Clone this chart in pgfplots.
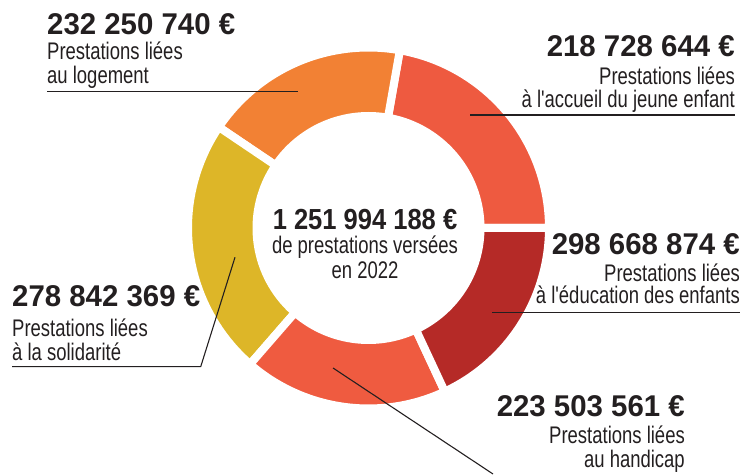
\documentclass[border=0pt]{standalone}
\usepackage{pgfplots}
\pgfplotsset{compat=1.18}
\usepackage{fontspec}
\setmainfont{Liberation Sans}[FakeStretch=0.77]
\newfontfamily\regfont{Liberation Sans}[FakeStretch=0.77]
\newfontfamily\numfont{Liberation Sans}[FakeStretch=0.98]
\newfontfamily\cnumfont{Liberation Sans}[FakeStretch=0.88]
\definecolor{cLog}{HTML}{F28134}
\definecolor{cAcc}{HTML}{EE5A40}
\definecolor{cEdu}{HTML}{B52A27}
\definecolor{cHan}{HTML}{EF5B40}
\definecolor{cSol}{HTML}{DDB628}
\definecolor{txt}{HTML}{231F20}
% donut geometry (px units): centre, outer and inner radii (padded by half the white gap)
\def\cx{368.5}\def\cy{246}\def\Ro{180.5}\def\Ri{112}
\newcommand{\donutslice}[3]{%
  \addplot[fill=#3, draw=white, line width=8pt, line join=miter, samples at={0,...,81}, variable=\k]
  ({\cx + ((\k<=40) ? \Ro : \Ri)*cos((\k<=40) ? (#1+(#2-#1)*\k/40) : (#2-(#2-#1)*(\k-41)/40))},
   {\cy + ((\k<=40) ? \Ro : \Ri)*sin((\k<=40) ? (#1+(#2-#1)*\k/40) : (#2-(#2-#1)*(\k-41)/40))}) -- cycle;
}
\newcommand{\lab}{\regfont\fontsize{24}{24}\selectfont}
\begin{document}
\begin{tikzpicture}
\begin{axis}[scale only axis, width=747pt, height=474pt,
  xmin=0, xmax=747, ymin=0, ymax=474, hide axis, clip=false]
% slice boundaries in degrees (as drawn in the reference)
% accueil 0-80, logement 80-146, solidarite 146-229, handicap 229-295, education 295-360
\donutslice{0}{80}{cAcc}
\donutslice{80}{146}{cLog}
\donutslice{146}{229}{cSol}
\donutslice{229}{295}{cHan}
\donutslice{295}{360}{cEdu}
% leader lines
\addplot[txt, line width=1.1pt] coordinates {(47,382.5) (298,382.5)};
\addplot[txt, line width=1.1pt] coordinates {(470,359) (735,359)};
\addplot[txt, line width=1.1pt] coordinates {(492,161.5) (740,161.5)};
\addplot[txt, line width=1.1pt] coordinates {(333,106) (493,0)};
\addplot[txt, line width=1.1pt] coordinates {(235,216.7) (200.7,107.3) (12,107.3)};
% labels
\begin{scope}[every node/.style={inner sep=0pt, text=txt}]
\node[anchor=base west] at (axis cs:47,439) {\numfont\bfseries\fontsize{30}{30}\selectfont 232 250 740 €};
\node[anchor=base west] at (axis cs:47,414) {\lab Prestations liées};
\node[anchor=base west] at (axis cs:47,390.5) {\lab au logement};

\node[anchor=base east] at (axis cs:735,417.3) {\numfont\bfseries\fontsize{30}{30}\selectfont 218 728 644 €};
\node[anchor=base east] at (axis cs:735,389.5) {\lab Prestations liées};
\node[anchor=base east] at (axis cs:735,366.7) {\lab à l'accueil du jeune enfant};

\node[anchor=base east] at (axis cs:740,219) {\numfont\bfseries\fontsize{30}{30}\selectfont 298 668 874 €};
\node[anchor=base east] at (axis cs:740,192) {\lab Prestations liées};
\node[anchor=base east] at (axis cs:740,170.5) {\lab à l'éducation des enfants};

\node[anchor=base east] at (axis cs:685,57.3) {\numfont\bfseries\fontsize{30}{30}\selectfont 223 503 561 €};
\node[anchor=base east] at (axis cs:685,30.7) {\lab Prestations liées};
\node[anchor=base east] at (axis cs:685,6.7) {\lab au handicap};

\node[anchor=base west] at (axis cs:12,167.3) {\numfont\bfseries\fontsize{30}{30}\selectfont 278 842 369 €};
\node[anchor=base west] at (axis cs:12,137) {\lab Prestations liées};
\node[anchor=base west] at (axis cs:12,113.3) {\lab à la solidarité};

\node[anchor=base] at (axis cs:365,244) {\cnumfont\bfseries\fontsize{29}{29}\selectfont 1 251 994 188 €};
\node[anchor=base] at (axis cs:365,220) {\lab de prestations versées};
\node[anchor=base] at (axis cs:365,195) {\lab en 2022};
\end{scope}
\end{axis}
\pgfresetboundingbox
\path (0,0) rectangle (747pt,474pt);
\end{tikzpicture}
\end{document}
